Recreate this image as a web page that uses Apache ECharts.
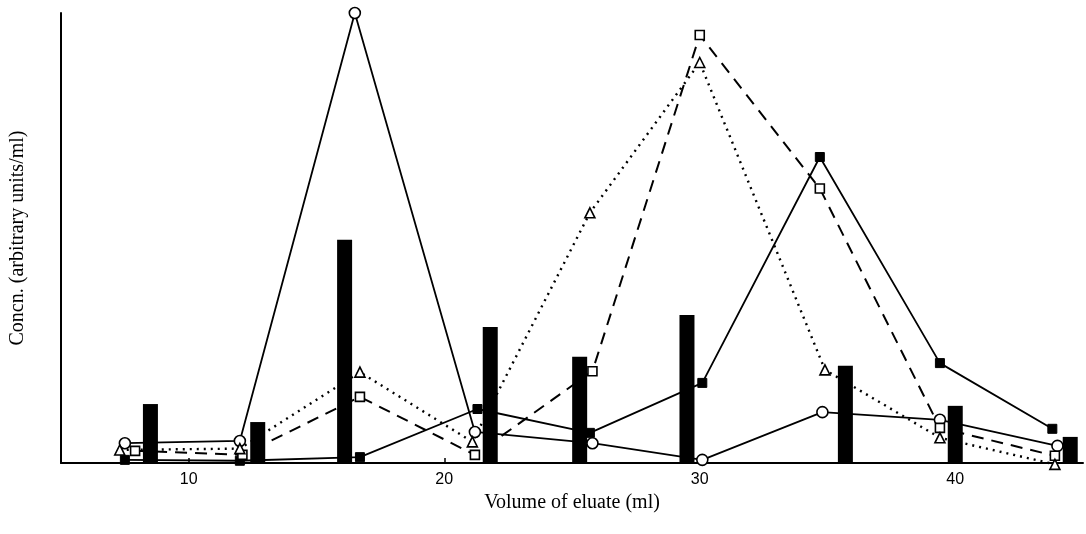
<!DOCTYPE html>
<html>
<head>
<meta charset="utf-8">
<script src="https://cdn.jsdelivr.net/npm/echarts@6/dist/echarts.min.js"></script>
<style>html,body{margin:0;padding:0;background:#fff}#c{width:1086px;height:534px}</style>
</head>
<body>
<div id="c"></div>
<script>
// Volume of eluate (ml) for the line points and their concentrations (arbitrary units/ml)
const circleX = [7.5, 12.0, 16.5, 21.2, 25.8, 30.1, 34.8, 39.4, 44.0];
const circleY = [4.4, 4.9, 100, 6.9, 4.4, 0.7, 11.3, 9.6, 3.8];
const filledSqX = [7.5, 12.0, 16.7, 21.3, 25.7, 30.1, 34.7, 39.4, 43.8];
const filledSqY = [0.7, 0.5, 1.3, 12.0, 6.7, 17.8, 68.0, 22.2, 7.6];
const openSqX = [7.9, 12.1, 16.7, 21.2, 25.8, 30.0, 34.7, 39.4, 43.9];
const openSqY = [2.7, 1.8, 14.7, 1.8, 20.4, 95.1, 61.0, 7.8, 1.6];
const triX = [7.3, 12.0, 16.7, 21.1, 25.7, 30.0, 34.9, 39.4, 43.9];
const triY = [2.9, 3.2, 20.2, 4.7, 55.6, 89.0, 20.7, 5.6, -0.3];
const barX = [8.5, 12.7, 16.1, 21.8, 25.3, 29.5, 35.7, 40.0, 44.5];
const barY = [13.1, 9.1, 49.6, 30.2, 23.6, 32.9, 21.6, 12.7, 5.8];
const xTicks = [10, 20, 30, 40];

const pairs = (xs, ys) => xs.map((x, i) => [x, ys[i]]);
const lineBase = {
  type: 'line', clip: false, symbolKeepAspect: true, animation: false, z: 3,
  itemStyle: { color: '#fff', borderColor: '#000', borderWidth: 1.6 }
};

const chart = echarts.init(document.getElementById('c'), null, { renderer: 'canvas' });
chart.setOption({
  backgroundColor: '#fff',
  animation: false,
  grid: { left: 58, right: 3, top: 13, bottom: 71, containLabel: false },
  xAxis: {
    type: 'value', min: 5, max: 45, interval: 5,
    name: 'Volume of eluate (ml)', nameLocation: 'middle', nameGap: 21,
    nameTextStyle: { fontFamily: 'Liberation Serif', fontSize: 20, color: '#000' },
    axisLine: { lineStyle: { color: '#000', width: 2 } },
    axisTick: { inside: true, length: 5, customValues: xTicks, lineStyle: { color: '#000', width: 1.5 } },
    axisLabel: { color: '#000', fontFamily: 'Liberation Sans Narrow, Liberation Sans', fontSize: 16, margin: 9,
      customValues: xTicks },
    splitLine: { show: false }
  },
  yAxis: {
    type: 'value', min: 0, max: 100,
    name: 'Concn. (arbitrary units/ml)', nameLocation: 'middle', nameGap: 33,
    nameTextStyle: { fontFamily: 'Liberation Serif', fontSize: 20, color: '#000' },
    axisLine: { show: true, lineStyle: { color: '#000', width: 2 } },
    axisTick: { show: false }, axisLabel: { show: false }, splitLine: { show: false }
  },
  series: [
    { type: 'bar', data: pairs(barX, barY), barWidth: 15, itemStyle: { color: '#000' }, z: 2 },
    Object.assign({}, lineBase, { data: pairs(circleX, circleY), symbol: 'circle', symbolSize: 11,
      lineStyle: { color: '#000', width: 1.8, type: 'solid' } }),
    Object.assign({}, lineBase, { data: pairs(filledSqX, filledSqY), symbol: 'rect', symbolSize: 9,
      itemStyle: { color: '#000', borderColor: '#000', borderWidth: 1 },
      lineStyle: { color: '#000', width: 1.8, type: 'solid' } }),
    Object.assign({}, lineBase, { data: pairs(openSqX, openSqY), symbol: 'rect', symbolSize: 9,
      lineStyle: { color: '#000', width: 2, type: [12, 8] } }),
    Object.assign({}, lineBase, { data: pairs(triX, triY), symbol: 'triangle', symbolSize: 10,
      lineStyle: { color: '#000', width: 2.4, type: [2, 5] } })
  ]
});
</script>
</body>
</html>
